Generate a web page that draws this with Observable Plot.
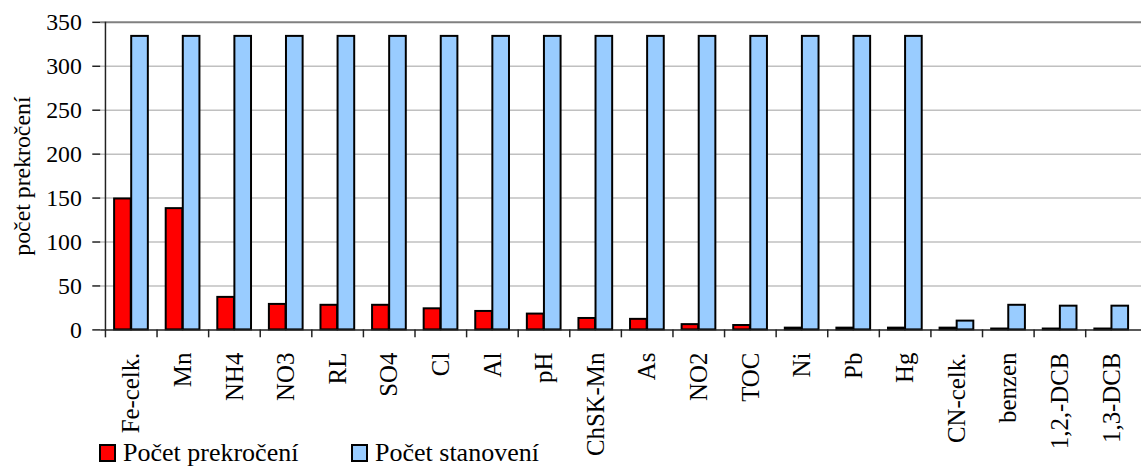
<!DOCTYPE html>
<html>
<head>
<meta charset="utf-8">
<script src="https://cdn.jsdelivr.net/npm/d3@7"></script>
<script src="https://cdn.jsdelivr.net/npm/@observablehq/plot@0.6"></script>
<style>
  html, body { margin: 0; padding: 0; background: #fff; overflow: hidden; }
  #wrap { position: relative; width: 1141px; height: 466px; overflow: hidden; }
  #legend { position: absolute; left: 99px; top: 439px; font-family: 'Liberation Serif', Tinos, 'Times New Roman', Times, 'DejaVu Serif', serif; font-size: 26px; line-height: 28px; color: #000; display: flex; align-items: center; white-space: nowrap; }
  .sw { display: inline-block; width: 13px; height: 14px; border: 2px solid #000; margin-right: 7px; }
  .item { display: flex; align-items: center; }
</style>
</head>
<body>
<div id="wrap"><div id="chart"></div>
<div id="legend">
  <span class="item" style="width:252px"><span class="sw" style="background:#ff0000"></span>Počet prekročení</span>
  <span class="item"><span class="sw" style="background:#99ccff"></span>Počet stanovení</span>
</div>
</div>
<script>
const categories = ["Fe-celk.","Mn","NH4","NO3","RL","SO4","Cl","Al","pH","ChSK-Mn","As","NO2","TOC","Ni","Pb","Hg","CN-celk.","benzen","1,2,-DCB","1,3-DCB"];
const pocetPrekroceni = [149,138,37,29,28,28,24,21,18,13,12,6,5,2,2,2,2,1,1,1];
const pocetStanoveni = [334,334,334,334,334,334,334,334,334,334,334,334,334,334,334,334,10,28,27,27];
const yTicks = [0,50,100,150,200,250,300,350];

const data = categories.map((c, i) => ({cat: c, prek: pocetPrekroceni[i], stan: pocetStanoveni[i]}));

const W = 1150, ML = 101, MR = 0;
const step = (W - ML - MR) / categories.length;
const font = "'Liberation Serif', Tinos, 'Times New Roman', Times, 'DejaVu Serif', serif";

const chart = Plot.plot({
  width: W,
  height: 466,
  marginLeft: ML,
  marginRight: MR,
  marginTop: 22,
  marginBottom: 134,
  style: {fontFamily: font, fontSize: "24px", background: "#fff", color: "#000", overflow: "visible"},
  x: {domain: categories, padding: 0},
  y: {domain: [0, 350]},
  marks: [
    Plot.ruleY(yTicks.filter(d => d > 0 && d < 350), {stroke: "#c0c0c0", strokeWidth: 1.5}),
    Plot.ruleY([350], {stroke: "#808080", strokeWidth: 2}),
    Plot.barY(data, {x: "cat", y: "prek", fill: "#ff0000", stroke: "#000", strokeWidth: 2, insetLeft: 9, insetRight: step / 2}),
    Plot.barY(data, {x: "cat", y: "stan", fill: "#99ccff", stroke: "#000", strokeWidth: 2, insetLeft: step / 2, insetRight: 9}),
    Plot.ruleY([0], {stroke: "#222", strokeWidth: 1.5}),
    Plot.ruleX([categories[0]], {dx: -step / 2, y1: 0, y2: 350, stroke: "#222", strokeWidth: 1.5}),
    Plot.axisY({ticks: yTicks, tickSize: 8, tickPadding: 11, fontSize: 24, fontFamily: font, stroke: "#222", strokeWidth: 1.5,
      label: "počet prekročení", labelAnchor: "center", labelArrow: "none", labelOffset: 88}),
    Plot.axisX({ticks: categories, tickSize: 8, text: null, dx: -step / 2, stroke: "#222", strokeWidth: 1.5, label: null}),
    Plot.axisX({tickSize: 0, tickPadding: 23, tickRotate: -90, fontSize: 25, fontFamily: font, label: null})
  ]
});
document.getElementById("chart").appendChild(chart);
</script>
</body>
</html>
